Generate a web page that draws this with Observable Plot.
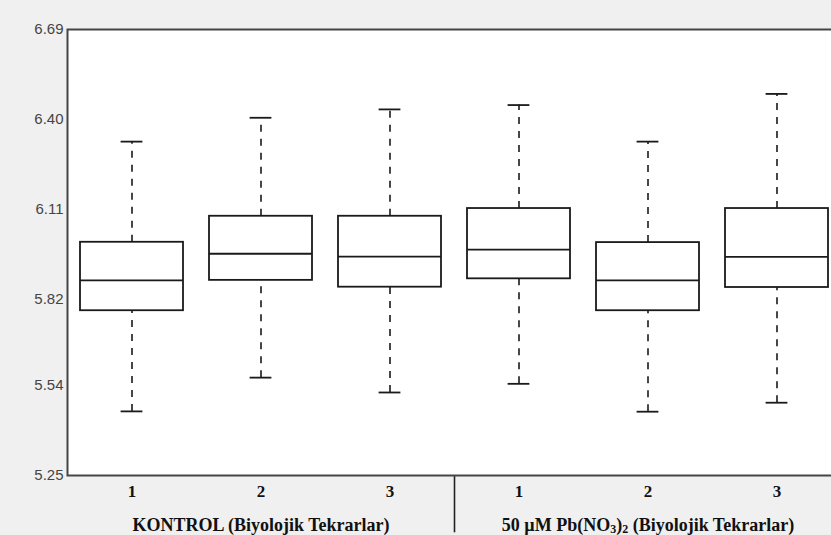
<!DOCTYPE html>
<html>
<head>
<meta charset="utf-8">
<script src="https://cdn.jsdelivr.net/npm/d3@7"></script>
<script src="https://cdn.jsdelivr.net/npm/@observablehq/plot@0.6"></script>
<style>
  html, body { margin: 0; padding: 0; background: #ffffff; overflow: hidden; }
  #chart svg { display: block; }
</style>
</head>
<body>
<div id="chart"></div>
<script>
// Categories (two groups of three biological replicates)
const keys = ["K1", "K2", "K3", "P1", "P2", "P3"];
const replicateLabels = ["1", "2", "3", "1", "2", "3"];
const groupLabels = ["KONTROL (Biyolojik Tekrarlar)", "50 µM Pb(NO3)2 (Biyolojik Tekrarlar)"];
const groupCenters = ["K2", "P2"];

// Box statistics
const whiskerLow  = [5.457, 5.566, 5.518, 5.546, 5.456, 5.485];
const q1          = [5.782, 5.880, 5.858, 5.885, 5.782, 5.857];
const median      = [5.880, 5.966, 5.957, 5.979, 5.880, 5.956];
const q3          = [6.003, 6.087, 6.087, 6.112, 6.002, 6.112];
const whiskerHigh = [6.328, 6.405, 6.432, 6.446, 6.328, 6.482];

// Axis ticks
const yTicks = [5.25, 5.54, 5.82, 6.11, 6.40, 6.69];
const yDomain = [5.25, 6.69];

const data = keys.map((k, i) => ({
  key: k,
  label: replicateLabels[i],
  lo: whiskerLow[i], q1: q1[i], med: median[i], q3: q3[i], hi: whiskerHigh[i]
}));
const labelOf = Object.fromEntries(keys.map((k, i) => [k, replicateLabels[i]]));

const ink = "#1a1a1a";

const chart = Plot.plot({
  width: 831,
  height: 535,
  marginLeft: 67,
  marginRight: -10,
  marginTop: 29,
  marginBottom: 60,
  style: {background: "#f0f0f0", overflow: "hidden"},
  x: {domain: keys, paddingInner: 0.2, paddingOuter: 0.1, label: null},
  y: {domain: yDomain, label: null},
  marks: [
    Plot.frame({fill: "white"}),
    // upper whiskers
    Plot.ruleX(data, {x: "key", y1: "q3", y2: "hi", stroke: ink, strokeWidth: 1.6, strokeDasharray: "7,7"}),
    // lower whiskers
    Plot.ruleX(data, {x: "key", y1: "lo", y2: "q1", stroke: ink, strokeWidth: 1.6, strokeDasharray: "7,7"}),
    // whisker caps
    Plot.tickY(data, {x: "key", y: "hi", stroke: ink, strokeWidth: 1.8, inset: 40.6}),
    Plot.tickY(data, {x: "key", y: "lo", stroke: ink, strokeWidth: 1.8, inset: 40.6}),
    // boxes
    Plot.barY(data, {x: "key", y1: "q1", y2: "q3", fill: "white", stroke: ink, strokeWidth: 1.8}),
    // medians
    Plot.tickY(data, {x: "key", y: "med", stroke: ink, strokeWidth: 1.8}),
    // group separator under the axis
    Plot.ruleX([groupCenters[0]], {x: ["K3"], dx: 64.5, y1: [5.25], y2: [5.065], stroke: "#222", strokeWidth: 1.6}),
    // frame
    Plot.frame({stroke: "#454545", strokeWidth: 2}),
    Plot.axisX({
      tickSize: 0, tickPadding: 9, tickFormat: d => labelOf[d],
      fontSize: 17, fontWeight: "bold", fontFamily: "Liberation Serif", fill: "#111", label: null
    }),
    Plot.axisY({
      ticks: yTicks, tickFormat: d => d.toFixed(2), tickSize: 0, tickPadding: 4,
      fontSize: 15, fontFamily: "Liberation Sans", fill: "#444", label: null
    }),
    Plot.text(groupLabels, {
      x: groupCenters, text: d => d, frameAnchor: "bottom", dy: 55, lineAnchor: "bottom",
      fontSize: 18, fontWeight: "bold", fontFamily: "Liberation Serif", fill: "#111", textAnchor: "middle"
    })
  ]
});

// Render subscripts in the chemical formula
d3.select(chart).selectAll("text").each(function() {
  const t = this.textContent;
  if (t.includes("Pb(NO3)2")) {
    const sel = d3.select(this);
    sel.text(null);
    const parts = [["50 µM Pb(NO", false], ["3", true], [")", false], ["2", true], [" (Biyolojik Tekrarlar)", false]];
    let shifted = false;
    for (const [s, sub] of parts) {
      const ts = sel.append("tspan").text(s);
      if (sub) { ts.attr("font-size", 12).attr("dy", shifted ? 0 : 2); shifted = true; }
      else { if (shifted) ts.attr("dy", -2); shifted = false; }
    }
  }
});

document.getElementById("chart").appendChild(chart);
</script>
</body>
</html>
